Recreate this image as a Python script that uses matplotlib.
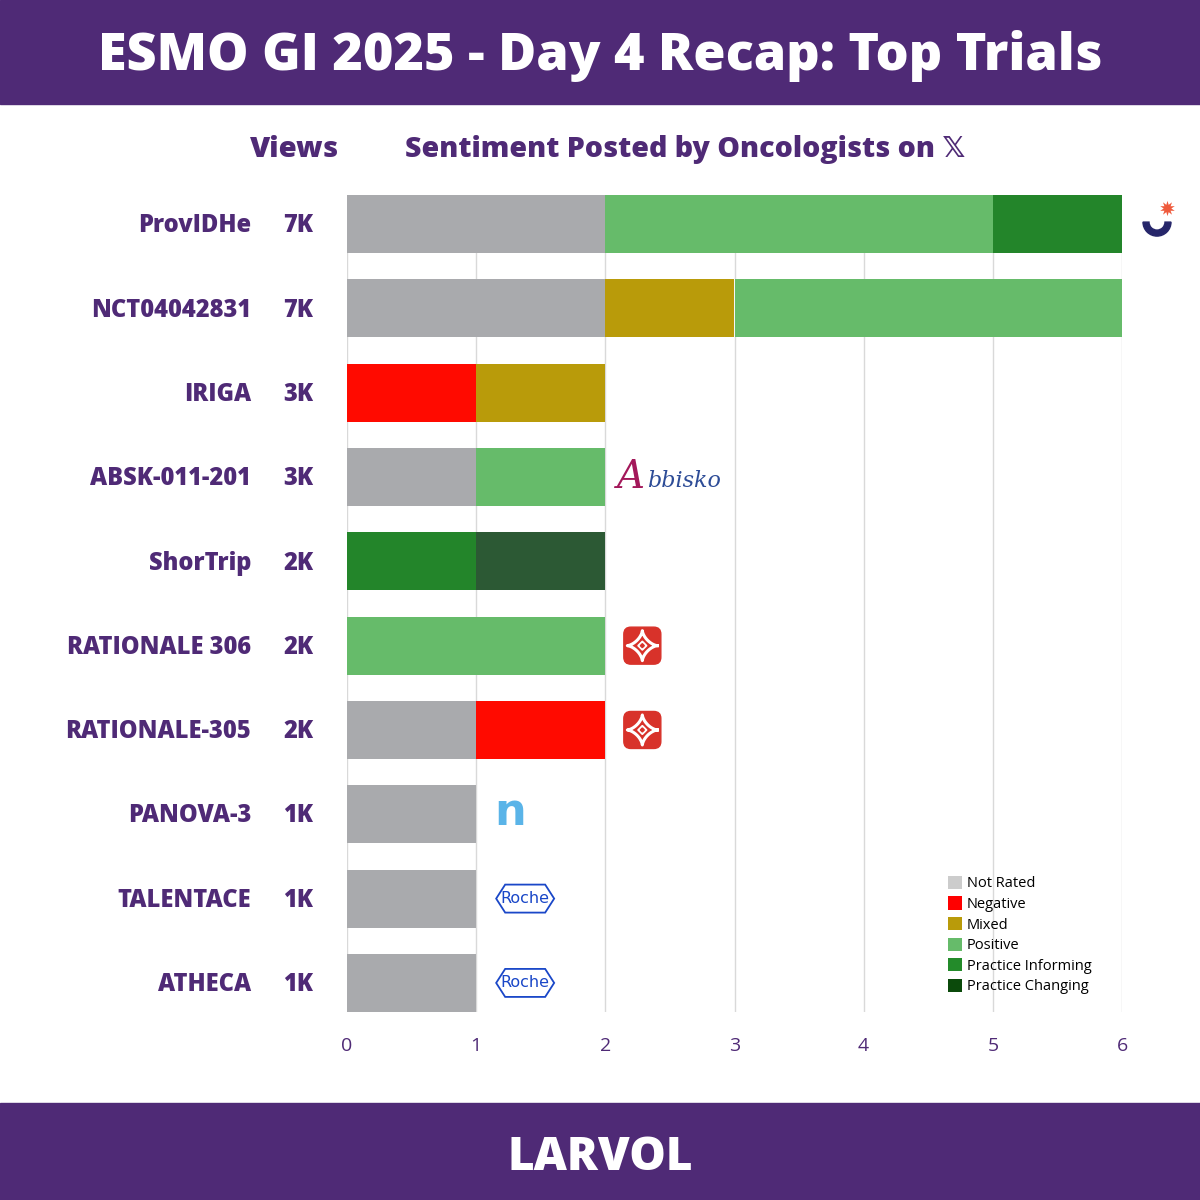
import numpy as np
import matplotlib
matplotlib.use("Agg")
import matplotlib.pyplot as plt
from matplotlib.patches import Patch, Wedge, FancyBboxPatch, Polygon
from matplotlib.transforms import ScaledTranslation, blended_transform_factory

# ---------------- data ----------------
trials = ["ProvIDHe", "NCT04042831", "IRIGA", "ABSK-011-201", "ShorTrip",
          "RATIONALE 306", "RATIONALE-305", "PANOVA-3", "TALENTACE", "ATHECA"]
views = ["7K", "7K", "3K", "3K", "2K", "2K", "2K", "1K", "1K", "1K"]
categories = ["Not Rated", "Negative", "Mixed", "Positive",
              "Practice Informing", "Practice Changing"]
not_rated = [2, 2, 0, 1, 0, 0, 1, 1, 1, 1]
negative = [0, 0, 1, 0, 0, 0, 1, 0, 0, 0]
mixed = [0, 1, 1, 0, 0, 0, 0, 0, 0, 0]
positive = [3, 3, 0, 1, 0, 2, 0, 0, 0, 0]
practice_informing = [1, 0, 0, 0, 1, 0, 0, 0, 0, 0]
practice_changing = [0, 0, 0, 0, 1, 0, 0, 0, 0, 0]
logos = ["servier", None, None, "abbisko", None, "beigene", "beigene",
         "n", "roche", "roche"]
xticks = [0, 1, 2, 3, 4, 5, 6]

bar_colors = ["#a9aaad", "#ff0a00", "#b99b0a", "#66bb6a", "#23852a", "#2c5934"]
legend_colors = ["#cccccc", "#ff0000", "#b99b0a", "#66bb6a", "#238b2a", "#0b4a0b"]

PURPLE = "#4f2a76"
FONT = "Open Sans"

series = [not_rated, negative, mixed, positive, practice_informing, practice_changing]

fig = plt.figure(figsize=(12, 12), dpi=100)
fig.patch.set_facecolor("white")

# header / footer bands
fig.add_artist(plt.Rectangle((0, 1 - 104 / 1200), 1, 104 / 1200, transform=fig.transFigure,
                             color=PURPLE, zorder=0))
fig.add_artist(plt.Rectangle((0, 0), 1, 97 / 1200, transform=fig.transFigure,
                             color=PURPLE, zorder=0))
fig.text(0.5, 1 - 56 / 1200, "ESMO GI 2025 - Day 4 Recap: Top Trials", color="white",
         fontsize=37.5, fontweight="heavy", family=FONT, ha="center", va="center")
fig.text(0.5, 1 - 1158 / 1200, "LARVOL", color="white", fontsize=33, fontweight="heavy",
         family=FONT, ha="center", va="center")

# main axes
ax = fig.add_axes([347 / 1200, 1 - 1012 / 1200, 775 / 1200, 817 / 1200])
y = np.arange(len(trials))
left = np.zeros(len(trials))
for vals, col in zip(series, bar_colors):
    vals = np.array(vals, dtype=float)
    ax.barh(y, vals, left=left, height=0.69, color=col, zorder=2, linewidth=0)
    left += vals
ax.set_xlim(0, 6)
ax.set_ylim(len(trials) - 1 + 0.345, -0.345)
ax.set_xticks(xticks)
ax.set_xticklabels([str(t) for t in xticks], color=PURPLE, fontsize=14, family=FONT)
ax.set_yticks([])
ax.tick_params(axis="x", length=0, pad=18)
for s in ax.spines.values():
    s.set_visible(False)
ax.grid(axis="x", color="#d9d9d9", linewidth=1, zorder=0)
ax.set_axisbelow(True)

# row labels
tr = blended_transform_factory(fig.transFigure, ax.transData)
for i, (name, v) in enumerate(zip(trials, views)):
    ax.text(251 / 1200, i + 0.02, name, transform=tr, ha="right", va="center", color=PURPLE,
            fontsize=17, fontweight="heavy", family=FONT)
    ax.text(298 / 1200, i + 0.02, v, transform=tr, ha="center", va="center", color=PURPLE,
            fontsize=17, fontweight="heavy", family=FONT)

# column headers
fig.text(294 / 1200, 1 - 157 / 1200, "Views", ha="center", va="baseline", color=PURPLE,
         fontsize=21, fontweight="heavy", family=FONT)
fig.text(405 / 1200, 1 - 157 / 1200, "Sentiment Posted by Oncologists on \U0001D54F",
         ha="left", va="baseline", color=PURPLE, fontsize=20.5, fontweight="heavy",
         family=[FONT, "DejaVu Sans"])

# logos placed relative to bar ends
totals = left


def anchor(x, yy, dx_in):
    return fig.dpi_scale_trans + ScaledTranslation(x, yy, ax.transData) + \
        ScaledTranslation(dx_in, 0, fig.dpi_scale_trans)


for i, lg in enumerate(logos):
    if lg is None:
        continue
    xe = totals[i]
    if lg == "servier":
        t = anchor(xe, i, 0.35)
        ax.add_patch(Wedge((0, 0.02), 0.14, 180, 360, width=0.06, color="#26266a",
                           transform=t, clip_on=False, zorder=5))
        ax.plot([0.1], [0.16], marker=(10, 1, 0), markersize=11, color="#ef5a3c",
                transform=t, clip_on=False, zorder=5, markeredgewidth=0)
    elif lg == "abbisko":
        t = anchor(xe, i, 0.12)
        ax.text(0, 0.0, "A", transform=t, fontsize=28, style="italic", color="#a3185a",
                family="DejaVu Serif", ha="left", va="center", clip_on=False)
        ax.text(0.3, -0.04, "bbisko", transform=t, fontsize=16, style="italic",
                color="#2d4c97", family="DejaVu Serif", ha="left", va="center",
                clip_on=False)
    elif lg == "beigene":
        t = anchor(xe, i, 0.37)
        ax.add_patch(FancyBboxPatch((-0.15, -0.15), 0.30, 0.30,
                                    boxstyle="round,pad=0.035,rounding_size=0.07",
                                    color="#d8322a", transform=t, clip_on=False, zorder=5))
        tt = np.linspace(0, 2 * np.pi, 200)
        a = 0.15
        ax.plot(a * np.cos(tt) ** 3, a * np.sin(tt) ** 3, color="white", lw=2.2,
                transform=t, clip_on=False, zorder=6)
        ax.add_patch(Polygon([(0, 0.045), (0.045, 0), (0, -0.045), (-0.045, 0)],
                             closed=True, color="white", transform=t, clip_on=False,
                             zorder=6))
        ax.add_patch(Polygon([(0, 0.02), (0.02, 0), (0, -0.02), (-0.02, 0)],
                             closed=True, color="#d8322a", transform=t, clip_on=False,
                             zorder=7))
    elif lg == "n":
        t = anchor(xe, i, 0.34)
        ax.text(0, 0.02, "n", transform=t, fontsize=32, fontweight="bold", color="#5ab4e8",
                family="DejaVu Sans", ha="center", va="center", clip_on=False)
    elif lg == "roche":
        t = anchor(xe, i, 0.49)
        ax.add_patch(Polygon([(-0.29, 0), (-0.2, 0.14), (0.2, 0.14), (0.29, 0),
                              (0.2, -0.14), (-0.2, -0.14)], closed=True, fill=False,
                             edgecolor="#1a47c8", lw=1.3, transform=t, clip_on=False,
                             zorder=5))
        ax.text(0, 0.0, "Roche", transform=t, fontsize=11.5, color="#1a47c8",
                family=["Liberation Sans Narrow", "DejaVu Sans"], ha="center",
                va="center", clip_on=False)

# legend
handles = [Patch(facecolor=c, edgecolor="none") for c in legend_colors]
fig.legend(handles, categories, loc="upper left",
           bbox_to_anchor=(942 / 1200, 1 - 870 / 1200), frameon=False,
           prop={"family": FONT, "size": 10.5}, handlelength=1.0, handleheight=1.0,
           handletextpad=0.3, labelspacing=0.35, borderaxespad=0)

fig.savefig("out.png", dpi=100)
